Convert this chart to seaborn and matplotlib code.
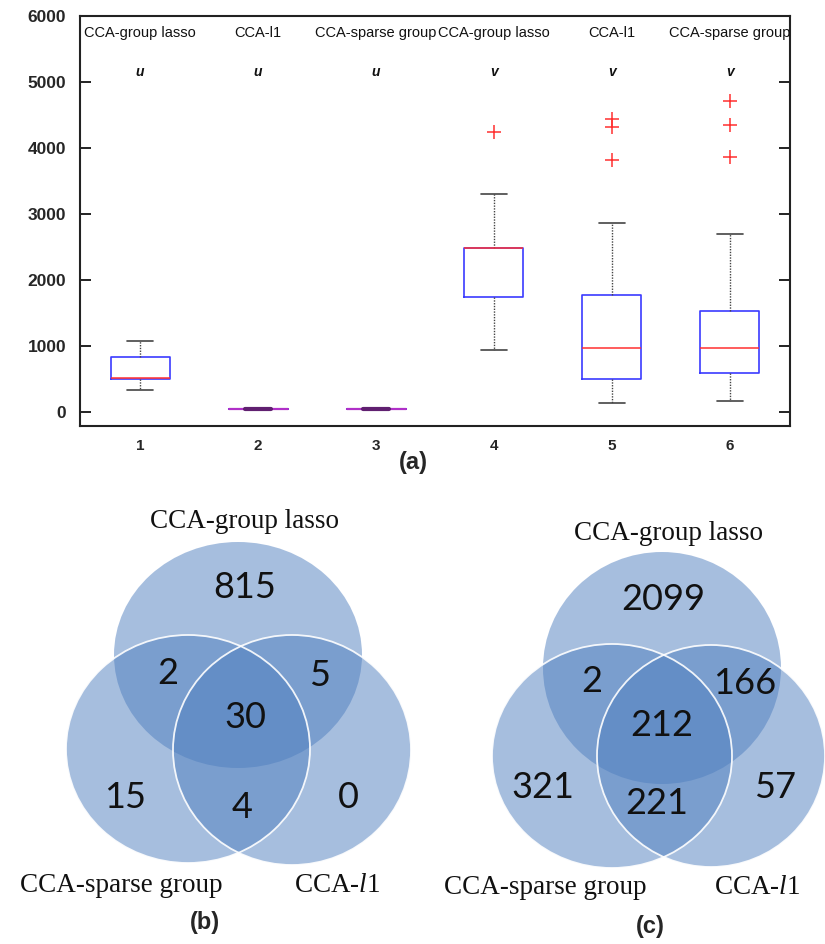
import numpy as np
import pandas as pd
import matplotlib
matplotlib.use("Agg")
import matplotlib.pyplot as plt
from matplotlib.patches import Ellipse
import seaborn as sns

# ---- (a) box-plot summary statistics per method ----
positions = [1, 2, 3, 4, 5, 6]
methods = ["CCA-group lasso", "CCA-l1", "CCA-sparse group",
           "CCA-group lasso", "CCA-l1", "CCA-sparse group"]
canonical = ["u", "u", "u", "v", "v", "v"]
whisker_low = [335, 40, 40, 940, 136, 167]
q1 = [500, 50, 50, 1738, 500, 591]
median = [510, 50, 50, 2480, 965, 975]
q3 = [828, 50, 50, 2480, 1773, 1535]
whisker_high = [1080, 60, 60, 3310, 2868, 2692]
outlier_pos = [4, 5, 5, 5, 6, 6, 6]
outlier_val = [4238, 4444, 4313, 3813, 4712, 4348, 3868]
yticks = [0, 1000, 2000, 3000, 4000, 5000, 6000]

# ---- (b), (c) Venn region counts ----
venn_sets = ["CCA-group lasso", "CCA-sparse group", "CCA-$l$1"]
# order: only A, A&S, A&L, A&S&L, only S, S&L, only L
venn_b = [815, 2, 5, 30, 15, 4, 0]
venn_c = [2099, 2, 166, 212, 321, 221, 57]

sns.set_theme(style="white")
plt.rcParams["font.family"] = ["Liberation Sans", "DejaVu Sans"]
plt.rcParams["mathtext.fontset"] = "custom"
plt.rcParams["mathtext.rm"] = "Liberation Serif"
plt.rcParams["mathtext.it"] = "Liberation Serif:italic"

W, H = 825, 944
fig = plt.figure(figsize=(W / 100, H / 100), dpi=100)

# ---------------- panel (a) ----------------
ax = fig.add_axes([80 / W, 1 - 426 / H, 710 / W, 410 / H])
stats = []
for i in range(len(positions)):
    stats.append(dict(whislo=whisker_low[i], q1=q1[i], med=median[i],
                      q3=q3[i], whishi=whisker_high[i], fliers=[]))
ax.bxp(stats, positions=positions, widths=0.5, showfliers=False,
       boxprops=dict(color="#3b3bff", linewidth=1.2),
       medianprops=dict(color="#ff3030", linewidth=1.1),
       whiskerprops=dict(color="#444444", linewidth=1.0, linestyle=(0, (1, 1))),
       capprops=dict(color="#444444", linewidth=1.2),
       capwidths=0.22)
# the collapsed boxes at ~50 look purple where blue and red overlap
for i in range(len(positions)):
    if q1[i] == q3[i]:
        ax.plot([positions[i] - 0.25, positions[i] + 0.25], [median[i]] * 2,
                color="#b030c8", linewidth=1.6, zorder=3)
        ax.plot([positions[i] - 0.11, positions[i] + 0.11], [median[i]] * 2,
                color="#602070", linewidth=3.0, zorder=4)

out_df = pd.DataFrame({"pos": outlier_pos, "val": outlier_val})
sns.scatterplot(data=out_df, x="pos", y="val", marker="+", s=90,
                color="#ff3030", linewidth=1.1, ax=ax, legend=False, zorder=5)

for i, p in enumerate(positions):
    ax.text(p, 5742, methods[i], ha="center", va="center", fontsize=10.5,
            color="#111111")
    ax.text(p, 5150, canonical[i], ha="center", va="center", fontsize=10,
            style="italic", fontweight="bold", color="#111111")

ax.set_xlim(0.49, 6.51)
ax.set_ylim(-210, 6000)
ax.set_yticks(yticks)
ax.set_yticklabels([str(t) for t in yticks], fontsize=12.5, fontweight="bold")
ax.set_xticks(positions)
ax.set_xticklabels([str(p) for p in positions], fontsize=11, fontweight="bold")
ax.tick_params(axis="y", direction="in", left=True, right=True, length=8,
               width=1.4, pad=10, color="#222222")
ax.tick_params(axis="x", length=0, pad=9)
ax.set_xlabel("")
ax.set_ylabel("")
for s in ax.spines.values():
    s.set_color("#222222")
    s.set_linewidth(1.5)
ax.grid(False)

fig.text(413 / W, 1 - 463 / H, "(a)", ha="center", va="center",
         fontsize=17, fontweight="bold")

# ---------------- panels (b), (c) ----------------
vax = fig.add_axes([0, 0, 1, 1], zorder=-1)
vax.set_xlim(0, W)
vax.set_ylim(H, 0)
vax.axis("off")

fill = "#4f7fbf"


def draw_venn(counts, circles, spots, label_xy, tag):
    # circles: top (group lasso), left (sparse group), right (l1): (cx, cy, rx, ry)
    for (cx, cy, rx, ry) in circles:
        vax.add_patch(Ellipse((cx, cy), 2 * rx, 2 * ry, facecolor=fill,
                              alpha=0.5, edgecolor="none"))
    for (cx, cy, rx, ry) in circles[1:]:
        vax.add_patch(Ellipse((cx, cy), 2 * rx, 2 * ry, facecolor="none",
                              edgecolor="white", linewidth=1.3, alpha=0.9))
    for n, (x, y) in zip(counts, spots):
        vax.text(x, y, str(n), ha="center", va="center", fontsize=26,
                 family=["Lato", "DejaVu Sans"], color="#111111")
    for txt, (x, y) in zip(venn_sets, label_xy):
        vax.text(x, y, txt, ha="center", va="center", fontsize=19.5,
                 family=["Liberation Serif", "DejaVu Serif"], color="#111111")
    vax.text(tag[1], tag[2], tag[0], ha="center", va="center", fontsize=17,
             fontweight="bold")


draw_venn(
    venn_b,
    [(238, 655, 124, 113), (188, 749, 122, 114), (292, 750, 119, 115)],
    [(245, 588), (168, 673), (320, 675), (245, 717), (125, 797), (242, 808),
     (348, 797)],
    [(245, 522), (121, 885), (337, 885)],
    ("(b)", 205, 923),
)
draw_venn(
    venn_c,
    [(662, 668, 119, 116), (612, 756, 120, 112), (711, 756, 114, 111)],
    [(663, 599), (592, 682), (745, 683), (662, 725), (543, 788), (657, 803),
     (775, 788)],
    [(668, 533), (545, 887), (757, 887)],
    ("(c)", 650, 927),
)

fig.savefig("out.png", dpi=100)
